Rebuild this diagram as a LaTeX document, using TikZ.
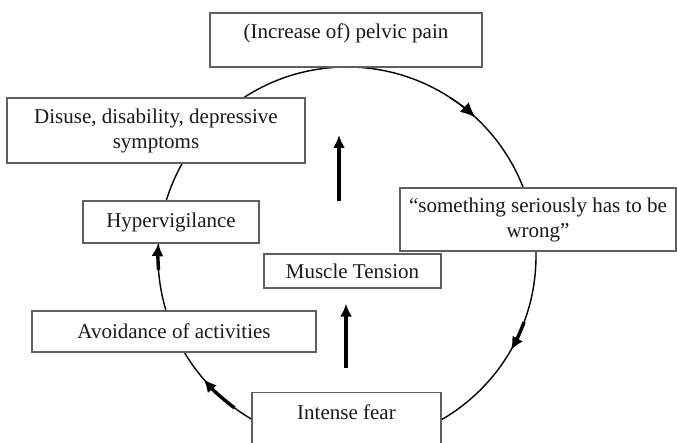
\documentclass[tikz,border=0pt]{standalone}
\usepackage{fontspec}
\setmainfont{Liberation Serif}
\usetikzlibrary{arrows.meta,calc}
\definecolor{boxgray}{RGB}{95,95,95}
\definecolor{textc}{RGB}{25,25,25}
\begin{document}
\begin{tikzpicture}[x=1pt,y=1pt,
  box/.style={draw=boxgray, line width=1.3pt, fill=white, inner sep=0pt, align=center,
              font=\fontsize{21}{25}\selectfont, text=textc},
  label text/.style={inner sep=0pt, align=center, font=\fontsize{21}{25}\selectfont, text=textc},
  loop/.style={line width=1.4pt},
  flow/.style={line width=3.4pt, -{Latex[length=13pt,width=12pt]}},
  thinflow/.style={line width=1.4pt, -{Latex[length=15pt,width=13pt]}},
]
\clip (0,0) rectangle (677,442);
\fill[white] (0,0) rectangle (677,442);
\coordinate (c) at (347,186);
\draw[loop] (c) circle[radius=189];

\node[box, minimum width=272pt, minimum height=54pt] (pain) at (346,402) {};
\node[label text] (paintext) at (346,409) {(Increase of) pelvic pain};
\node[box, minimum width=298pt, minimum height=65pt] (disuse) at (156,311.5) {Disuse, disability, depressive\\symptoms};
\node[box, minimum width=176pt, minimum height=42pt] (hyper) at (171,220) {Hypervigilance};
\node[box, minimum width=276pt, minimum height=63pt] (wrong) at (538,222.5) {“something seriously has to be\\wrong”};
\node[box, minimum width=177pt, minimum height=34pt] (muscle) at (352.5,171) {Muscle Tension};
\node[box, minimum width=284pt, minimum height=41pt] (avoid) at (174,110.5) {Avoidance of activities};
\node[box, minimum width=189pt, minimum height=80pt, anchor=north] (fear) at (346.5,50) {};
\node[label text] (feartext) at (346.5,30) {Intense fear};

% arrows along the cycle
\draw[thinflow] ($(c)+(57:189)$) arc[start angle=57, end angle=47.2, radius=189];
\draw[flow] ($(c)+(-20.5:189)$) arc[start angle=-20.5, end angle=-29.8, radius=189];
\draw[flow] ($(c)+(-126.5:189)$) arc[start angle=-126.5, end angle=-139.3, radius=189];
\draw[flow] ($(c)+(-175.8:189)$) arc[start angle=-175.8, end angle=-183.9, radius=189];

% central arrows
\draw[flow, shorten <=24pt, shorten >=15pt] (fear.north -| 346,0) -- (muscle.south -| 346,0);
\coordinate (ua) at (339,241);
\coordinate (ub) at (339,307);
\draw[flow] (ua) -- (ub);
\end{tikzpicture}
\end{document}
